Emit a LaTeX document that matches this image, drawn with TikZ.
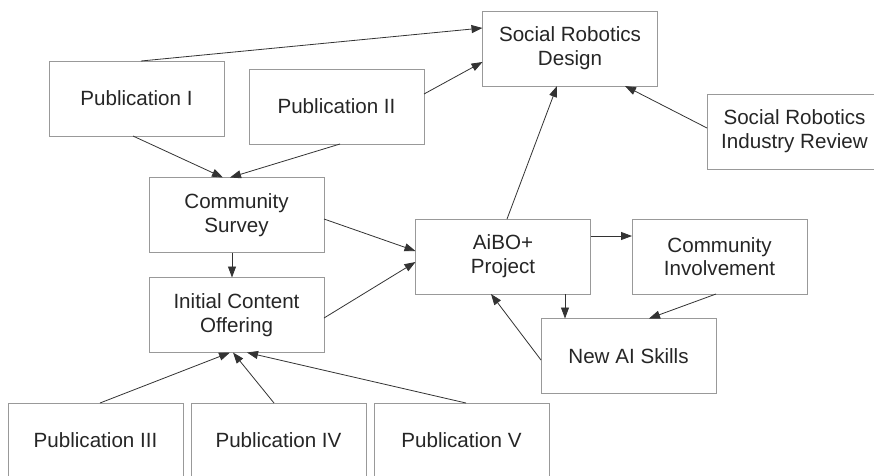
\documentclass[tikz,border=0pt]{standalone}
\usepackage{fontspec}
\setmainfont{Liberation Sans}
\usetikzlibrary{arrows.meta}

\begin{document}
\begin{tikzpicture}[x=1pt, y=-1pt,
  box/.style={draw=black!40, line width=0.9pt, minimum width=175pt, minimum height=75pt,
    inner sep=0pt, outer sep=0pt, align=center,
    font=\fontsize{20.6}{23.7}\selectfont, text=black!85},
  arr/.style={draw=black!80, line width=0.8pt, -{Triangle[length=11pt, width=8pt]}}]
\clip (0,0) rectangle (874,475);
\fill[white] (0,0) rectangle (874,475);
% boxes
\node[box] (srd) at (570,48.5) {Social Robotics\\Design};
\node[box] (pubI) at (136.5,98.5) {Publication I};
\node[box] (pubII) at (336.5,106.5) {Publication II};
\node[box] (srir) at (794.5,131.5) {Social Robotics\\Industry Review};
\node[box] (survey) at (236.5,215) {Community\\Survey};
\node[box] (offer) at (236.5,315) {Initial Content\\Offering};
\node[box] (aibo) at (503,256.5) {AiBO+\\Project};
\node[box] (involve) at (719.5,256.5) {Community\\Involvement};
\node[box] (skills) at (628.5,356) {New AI Skills};
\node[box] (pubIII) at (95.5,440.5) {Publication III};
\node[box] (pubIV) at (278.5,440.5) {Publication IV};
\node[box] (pubV) at (461.5,440.5) {Publication V};
% arrows
\draw[arr] ([xshift=4.5pt]pubI.north) -- ([yshift=20.5pt]srd.west);
\draw[arr] ([yshift=12.5pt]pubII.east) -- ([yshift=-13.5pt]srd.west);
\draw[arr] ([xshift=-3.5pt]pubI.south) -- ([xshift=-13.5pt]survey.north);
\draw[arr] ([xshift=3.5pt]pubII.south) -- ([xshift=-6.5pt]survey.north);
\draw[arr] ([yshift=-4pt]survey.east) -- ([yshift=5.5pt]aibo.west);
\draw[arr] ([xshift=-4.5pt]survey.south) -- ([xshift=-4.5pt]offer.north);
\draw[arr] ([yshift=-3pt]offer.east) -- ([yshift=-5.5pt]aibo.west);
\draw[arr] ([xshift=4pt]aibo.north) -- ([xshift=-13pt]srd.south);
\draw[arr] ([yshift=3.5pt]srir.west) -- ([xshift=55pt]srd.south);
\draw[arr] ([yshift=20.5pt]aibo.east) -- ([yshift=20.5pt]involve.west);
\draw[arr] ([xshift=62pt]aibo.south) -- ([xshift=-63.5pt]skills.north);
\draw[arr] ([xshift=-3.5pt]involve.south) -- ([xshift=20.5pt]skills.north);
\draw[arr] ([yshift=-4pt]skills.west) -- ([xshift=-12pt]aibo.south);
\draw[arr] ([xshift=4.5pt]pubIII.north) -- ([xshift=-6.5pt]offer.south);
\draw[arr] ([xshift=-4.5pt]pubIV.north) -- ([xshift=-3.5pt]offer.south);
\draw[arr] ([xshift=4.5pt]pubV.north) -- ([xshift=10.5pt]offer.south);
\end{tikzpicture}
\end{document}
